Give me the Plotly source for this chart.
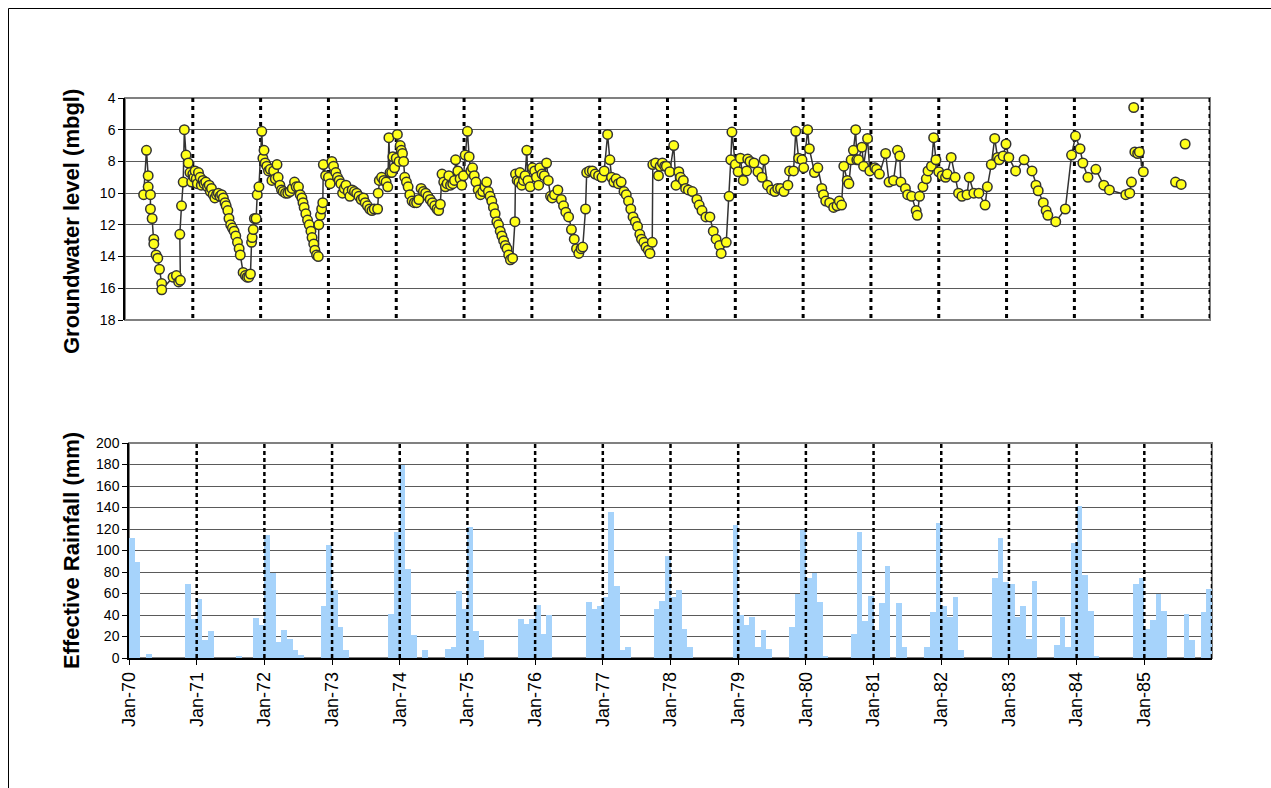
import plotly.graph_objects as go

W, H = 1271, 788

# ---------------- data ----------------
year_labels = ["Jan-70", "Jan-71", "Jan-72", "Jan-73", "Jan-74", "Jan-75", "Jan-76", "Jan-77",
               "Jan-78", "Jan-79", "Jan-80", "Jan-81", "Jan-82", "Jan-83", "Jan-84", "Jan-85"]

# monthly effective rainfall (mm), Jan-1970 .. Dec-1985
rain_1970 = [112, 89, 0, 4, 0, 0, 0, 0, 0, 0, 69, 36]
rain_1971 = [55, 17, 25, 0, 0, 0, 0, 1, 0, 0, 37, 31]
rain_1972 = [114, 79, 15, 26, 18, 7, 3, 0, 0, 0, 48, 105]
rain_1973 = [63, 29, 7, 0, 0, 0, 0, 0, 0, 0, 41, 117]
rain_1974 = [180, 83, 21, 0, 7, 0, 0, 0, 8, 10, 62, 46]
rain_1975 = [122, 25, 17, 0, 0, 0, 0, 0, 0, 36, 32, 36]
rain_1976 = [49, 22, 40, 0, 0, 0, 0, 0, 0, 52, 46, 48]
rain_1977 = [57, 136, 67, 7, 10, 0, 0, 0, 0, 46, 53, 95]
rain_1978 = [57, 63, 27, 10, 0, 0, 0, 0, 0, 0, 0, 124]
rain_1979 = [40, 31, 38, 10, 26, 8, 0, 0, 0, 29, 60, 119]
rain_1980 = [74, 79, 52, 1, 0, 0, 0, 0, 22, 117, 34, 58]
rain_1981 = [26, 51, 86, 0, 51, 10, 0, 0, 0, 10, 43, 126]
rain_1982 = [48, 38, 57, 7, 0, 0, 0, 0, 0, 74, 112, 71]
rain_1983 = [69, 38, 48, 18, 72, 0, 0, 0, 12, 38, 10, 107]
rain_1984 = [141, 77, 44, 1, 0, 0, 0, 0, 0, 0, 69, 74]
rain_1985 = [27, 35, 60, 44, 0, 0, 0, 41, 17, 0, 43, 64]
rain = (rain_1970 + rain_1971 + rain_1972 + rain_1973 + rain_1974 + rain_1975 + rain_1976 +
        rain_1977 + rain_1978 + rain_1979 + rain_1980 + rain_1981 + rain_1982 + rain_1983 +
        rain_1984 + rain_1985)

# groundwater level observations as (months since Jan-1970, level in m below ground)
gw_1970 = [(3.3, 10.1), (3.8, 7.3), (4.1, 8.9), (4.1, 9.6), (4.5, 10.1), (4.5, 11.0), (4.8, 11.6),
           (5.1, 12.9), (5.1, 13.2), (5.5, 13.9), (5.8, 14.1), (6.1, 14.8), (6.5, 15.7), (6.5, 16.1),
           (8.5, 15.3), (9.1, 15.2), (9.5, 15.6), (9.8, 15.5), (9.7, 12.6), (10.0, 10.8), (10.3, 9.3),
           (10.5, 6.0), (10.8, 7.6), (11.2, 8.1), (11.5, 8.7), (11.8, 9.3)]
gw_1971 = [(12.0, 8.8), (12.2, 9.0), (12.4, 8.6), (12.6, 9.1), (12.8, 9.4), (13.0, 8.7), (13.3, 9.0),
           (13.5, 9.5), (13.8, 9.2), (14.0, 9.4), (14.3, 9.3), (14.6, 9.6), (14.9, 9.5), (15.1, 9.9),
           (15.3, 9.7), (15.6, 10.1), (15.9, 10.3), (16.2, 10.1), (16.5, 10.0), (16.8, 10.2),
           (17.1, 10.1), (17.4, 10.3), (17.7, 10.6), (17.9, 10.8), (18.2, 11.1), (18.4, 11.6),
           (18.7, 12.0), (19.0, 12.2), (19.3, 12.4), (19.6, 12.7), (19.9, 13.1), (20.2, 13.5),
           (20.4, 13.9), (20.9, 15.0), (21.3, 15.2), (21.6, 15.3), (21.9, 15.3), (22.2, 15.1),
           (22.4, 13.1), (22.5, 12.8), (22.7, 12.3), (22.9, 11.6), (23.2, 11.6), (23.4, 10.1),
           (23.7, 9.6)]
gw_1972 = [(24.2, 6.1), (24.4, 7.8), (24.6, 7.3), (24.8, 8.1), (25.1, 8.3), (25.4, 8.6), (25.7, 8.5),
           (26.0, 9.2), (26.3, 8.6), (26.6, 9.1), (26.9, 8.2), (27.1, 9.0), (27.4, 9.5), (27.7, 9.8),
           (28.0, 9.9), (28.4, 10.0), (28.8, 10.0), (29.2, 9.9), (29.6, 9.7), (30.0, 9.3), (30.3, 9.6),
           (30.7, 9.6), (31.0, 10.1), (31.3, 10.3), (31.5, 10.6), (31.7, 10.9), (32.0, 11.3),
           (32.3, 11.7), (32.6, 12.0), (32.9, 12.4), (33.1, 12.8), (33.4, 13.2), (33.6, 13.6),
           (33.9, 13.9), (34.2, 14.0), (34.3, 12.0), (34.6, 11.4), (34.8, 11.0), (35.0, 10.6),
           (35.1, 8.2), (35.5, 8.9)]
gw_1973 = [(36.0, 9.0), (36.3, 9.4), (36.6, 8.0), (36.9, 8.3), (37.3, 8.7), (37.6, 9.0), (37.9, 9.2),
           (38.2, 9.4), (38.5, 10.0), (38.8, 9.7), (39.1, 9.5), (39.5, 9.9), (39.8, 10.2), (40.2, 9.8),
           (40.6, 9.9), (41.0, 10.0), (41.4, 10.2), (41.8, 10.4), (42.2, 10.3), (42.5, 10.6),
           (42.9, 10.8), (43.3, 11.0), (43.7, 11.1), (44.1, 11.0), (44.7, 11.0), (44.8, 10.0),
           (45.0, 9.2), (45.4, 9.0), (45.8, 9.2), (46.2, 9.3), (46.5, 9.6), (46.7, 6.5), (46.9, 8.7),
           (47.2, 8.7), (47.4, 7.7), (47.7, 8.4)]
gw_1974 = [(48.0, 7.8), (48.2, 6.3), (48.5, 8.0), (48.7, 7.0), (48.9, 7.3), (49.1, 7.5), (49.3, 8.0),
           (49.5, 9.0), (49.8, 9.3), (50.1, 9.6), (50.4, 10.1), (50.8, 10.5), (51.2, 10.6),
           (51.6, 10.6), (52.0, 10.4), (52.4, 9.7), (52.8, 9.9), (53.2, 10.0), (53.6, 10.2),
           (54.0, 10.4), (54.4, 10.6), (54.8, 10.8), (55.2, 11.0), (55.5, 11.1), (55.8, 10.7),
           (56.1, 8.8), (56.4, 9.3), (56.7, 9.6), (57.0, 9.4), (57.3, 8.9), (57.6, 9.5), (58.0, 9.4),
           (58.3, 9.2), (58.5, 7.9), (58.9, 8.6), (59.3, 9.1), (59.6, 9.5), (59.9, 8.9)]
gw_1975 = [(60.2, 7.6), (60.6, 6.1), (60.9, 7.7), (61.2, 8.6), (61.5, 8.4), (61.8, 8.9), (62.1, 9.3),
           (62.5, 9.8), (62.9, 10.1), (63.3, 9.9), (63.7, 9.6), (64.0, 9.3), (64.3, 9.9), (64.6, 10.2),
           (64.9, 10.5), (65.2, 10.9), (65.5, 11.3), (65.8, 11.8), (66.1, 12.0), (66.4, 12.4),
           (66.7, 12.7), (67.0, 13.0), (67.3, 13.3), (67.6, 13.5), (67.9, 13.9), (68.2, 14.2),
           (68.6, 14.1), (69.0, 11.8), (69.1, 8.8), (69.4, 9.2), (69.7, 9.3), (69.9, 8.7), (70.2, 9.5),
           (70.5, 9.2), (70.8, 8.9), (71.1, 7.3), (71.3, 9.2), (71.7, 9.6)]
gw_1976 = [(72.1, 8.4), (72.5, 8.6), (72.8, 9.0), (73.2, 9.5), (73.4, 8.4), (73.8, 8.8), (74.2, 8.9),
           (74.6, 8.1), (74.9, 9.2), (75.3, 10.2), (75.6, 10.3), (76.0, 10.1), (76.6, 9.8),
           (77.2, 10.4), (77.6, 10.8), (78.0, 11.2), (78.5, 11.5), (79.0, 12.3), (79.5, 12.9),
           (79.9, 13.5), (80.3, 13.8), (80.7, 13.5), (81.0, 13.4), (81.5, 11.0), (81.7, 8.7),
           (82.2, 8.6), (82.7, 8.6), (83.2, 8.8), (83.8, 8.9)]
gw_1977 = [(84.4, 9.0), (84.8, 8.6), (85.4, 6.3), (85.8, 7.9), (86.1, 9.0), (86.5, 9.3), (86.9, 9.1),
           (87.3, 9.4), (87.8, 9.3), (88.3, 9.9), (88.7, 10.1), (89.1, 10.5), (89.5, 11.0),
           (89.9, 11.5), (90.3, 11.8), (90.7, 12.1), (91.1, 12.6), (91.4, 12.9), (91.8, 13.1),
           (92.2, 13.4), (92.6, 13.6), (92.9, 13.8), (93.3, 13.1), (93.4, 8.2), (93.9, 8.1),
           (94.4, 8.9), (94.7, 8.3), (95.1, 8.1), (95.5, 8.3), (95.8, 8.3)]
gw_1978 = [(96.4, 8.65), (97.1, 7.0), (97.5, 9.5), (98.0, 8.65), (98.3, 9.0), (98.8, 9.2), (99.2, 9.7),
           (99.7, 9.8), (100.4, 9.9), (101.2, 10.4), (101.6, 10.75), (102.1, 11.1), (102.8, 11.5),
           (103.5, 11.5), (104.1, 12.4), (104.6, 12.9), (105.2, 13.3), (105.5, 13.8), (106.4, 13.1),
           (106.9, 10.2), (107.2, 7.9), (107.4, 6.15)]
gw_1979 = [(108.0, 8.2), (108.5, 8.65), (108.9, 7.8), (109.4, 9.2), (110.0, 8.6), (110.2, 7.85),
           (110.6, 8.0), (111.3, 8.1), (112.0, 8.65), (112.7, 9.0), (113.1, 7.9), (113.7, 9.5),
           (114.4, 9.8), (115.0, 9.9), (115.5, 9.7), (116.0, 9.7), (116.6, 9.9), (117.3, 9.5),
           (117.6, 8.6), (118.3, 8.6), (118.7, 6.1), (119.2, 7.8), (119.8, 7.9)]
gw_1980 = [(120.1, 8.4), (120.8, 6.0), (121.1, 7.2), (122.0, 8.7), (122.6, 8.4), (123.3, 9.7),
           (123.6, 10.1), (124.0, 10.5), (124.7, 10.6), (125.4, 10.9), (126.0, 10.8), (126.4, 10.5),
           (126.8, 10.75), (127.2, 8.3), (127.8, 9.2), (128.1, 9.4), (128.5, 7.9), (128.9, 7.3),
           (129.3, 6.0), (129.5, 7.9), (129.8, 7.9), (130.4, 7.1), (130.7, 8.3), (131.4, 6.55),
           (131.8, 8.6)]
gw_1981 = [(132.7, 8.4), (133.0, 8.5), (133.5, 8.8), (134.6, 7.5), (135.2, 9.3), (136.0, 9.2),
           (136.7, 7.3), (137.1, 7.65), (137.3, 9.3), (138.1, 9.7), (138.5, 10.1), (139.2, 10.2),
           (140.0, 11.1), (140.2, 11.4), (140.6, 10.2), (141.2, 9.6), (141.8, 9.1), (142.1, 8.6),
           (142.7, 8.3), (143.1, 6.5), (143.5, 7.9)]
gw_1982 = [(144.0, 8.65), (144.6, 8.9), (145.2, 9.0), (145.5, 8.8), (146.2, 7.75), (146.9, 9.0),
           (147.5, 10.0), (148.1, 10.2), (149.0, 10.1), (149.4, 9.0), (150.2, 10.0), (151.1, 10.0),
           (152.2, 10.75), (152.6, 9.6), (153.3, 8.2), (153.9, 6.55), (154.4, 7.75), (154.7, 7.9),
           (155.4, 7.65), (155.9, 6.9)]
gw_1983 = [(156.4, 7.75), (157.6, 8.6), (159.1, 7.9), (160.5, 8.6), (161.2, 9.5), (161.6, 9.85),
           (162.5, 10.6), (163.0, 11.1), (163.3, 11.4), (164.7, 11.8), (166.4, 11.0), (167.5, 7.6)]
gw_1984 = [(168.2, 6.4), (169.0, 7.2), (169.5, 8.1), (170.4, 9.0), (171.8, 8.5), (173.2, 9.5),
           (174.2, 9.8), (177.1, 10.1), (177.8, 10.0), (178.1, 9.3)]
# separately recorded runs (not joined to their neighbours)
gw_run_late84 = [(178.5, 4.6)]
gw_run_dec84 = [(178.7, 7.4), (179.2, 7.5), (179.5, 7.4), (180.2, 8.65)]
gw_run_aug85 = [(185.9, 9.3)]
gw_run_sep85 = [(186.9, 9.45)]
gw_run_oct85 = [(187.6, 6.9)]

gw_runs = [gw_1970 + gw_1971 + gw_1972 + gw_1973 + gw_1974 + gw_1975 + gw_1976 + gw_1977 +
           gw_1978 + gw_1979 + gw_1980 + gw_1981 + gw_1982 + gw_1983 + gw_1984,
           gw_run_late84, gw_run_dec84, gw_run_aug85, gw_run_sep85, gw_run_oct85]

gw_ticks = [4, 6, 8, 10, 12, 14, 16, 18]
rain_ticks = [0, 20, 40, 60, 80, 100, 120, 140, 160, 180, 200]
year_ticks = [12 * i for i in range(len(year_labels))]
n_months = len(rain)

gw_x, gw_y = [], []
for run in gw_runs:
    if gw_x:
        gw_x.append(None)
        gw_y.append(None)
    gw_x += [p[0] for p in run]
    gw_y += [p[1] for p in run]

# ---------------- figure ----------------
FONT = "Arial, Liberation Sans, sans-serif"
GRID = "#5a5a5a"

# dashed January separators (drawn as line traces, gaps separate the segments)
sep_x, sep_top, sep_bot = [], [], []
for k in range(1, len(year_labels) + 1):
    sep_x += [12 * k, 12 * k, None]
    sep_top += [gw_ticks[0], gw_ticks[-1], None]
    sep_bot += [rain_ticks[0], rain_ticks[-1], None]

fig = go.Figure()
fig.add_trace(go.Scatter(
    x=sep_x, y=sep_top, mode="lines", line=dict(color="black", width=3, dash="4px,4px"),
    xaxis="x", yaxis="y", showlegend=False, hoverinfo="skip"))
fig.add_trace(go.Bar(
    x=[m + 0.5 for m in range(n_months)], y=rain, width=1.0,
    marker=dict(color="#a6d3fb", line=dict(width=0)),
    xaxis="x2", yaxis="y2", showlegend=False))
fig.add_trace(go.Scatter(
    x=sep_x, y=sep_bot, mode="lines", line=dict(color="black", width=2.5, dash="4px,3px"),
    xaxis="x2", yaxis="y2", showlegend=False, hoverinfo="skip"))
fig.add_trace(go.Scatter(
    x=gw_x, y=gw_y, mode="lines+markers", connectgaps=False,
    line=dict(color="#333333", width=1.5),
    marker=dict(size=9.5, color="#ffff1a", line=dict(color="#333333", width=1.5)),
    xaxis="x", yaxis="y", showlegend=False))

def px_x(p):
    return p / W

def px_y(p):
    return 1 - p / H

top_x = [px_x(125), px_x(1210)]
top_y = [px_y(320), px_y(98)]
bot_x = [px_x(129), px_x(1212)]
bot_y = [px_y(658), px_y(443)]

fig.update_layout(
    width=W, height=H, margin=dict(l=0, r=0, t=0, b=0, pad=0, autoexpand=False), autosize=False,
    paper_bgcolor="white", plot_bgcolor="white",
    font=dict(family=FONT, color="black", size=14),
    bargap=0,
    xaxis=dict(domain=top_x, range=[0, n_months], anchor="y", showticklabels=False, automargin=False,
               showgrid=False, zeroline=False, showline=False, ticks=""),
    yaxis=dict(domain=top_y, range=[18, 4], anchor="x", tickvals=gw_ticks, automargin=False,
               showgrid=True, gridcolor=GRID, gridwidth=1, zeroline=False,
               showline=True, linecolor="black", linewidth=1.5,
               ticks="outside", ticklen=5, tickcolor="black", tickfont=dict(size=14)),
    xaxis2=dict(domain=bot_x, range=[0, n_months], anchor="y2", tickvals=year_ticks, automargin=False,
                ticktext=year_labels, tickangle=-90, showgrid=False, zeroline=False,
                showline=True, linecolor="black", linewidth=1.5,
                ticks="outside", ticklen=5, tickcolor="black", tickfont=dict(size=18)),
    yaxis2=dict(domain=bot_y, range=[0, 200], anchor="x2", tickvals=rain_ticks, automargin=False,
                showgrid=True, gridcolor=GRID, gridwidth=1, zeroline=False,
                showline=True, linecolor="black", linewidth=1.5,
                ticks="outside", ticklen=5, tickcolor="black", tickfont=dict(size=14)),
)

shapes = []
# chart-area frame (top and left edges; the rest runs off the page)
fx0, fy1 = px_x(8.5), px_y(8.5)
shapes.append(dict(type="line", xref="paper", yref="paper", x0=fx0, y0=fy1, x1=1, y1=fy1,
                   line=dict(color="black", width=1)))
shapes.append(dict(type="line", xref="paper", yref="paper", x0=fx0, y0=0, x1=fx0, y1=fy1,
                   line=dict(color="black", width=1)))
# plot-area borders
for xr, yr in (("x", "y"), ("x2", "y2")):
    shapes.append(dict(type="rect", xref=f"{xr} domain", yref=f"{yr} domain", x0=0, x1=1, y0=0, y1=1,
                       line=dict(color="#808080", width=2), layer="below"))
fig.update_layout(shapes=shapes)

fig.add_annotation(text="<b>Groundwater level (mbgl)</b>", textangle=-90, xref="paper", yref="paper",
                   x=px_x(71), y=px_y(222), showarrow=False, font=dict(size=22, family=FONT),
                   xanchor="center", yanchor="middle")
fig.add_annotation(text="<b>Effective Rainfall (mm)</b>", textangle=-90, xref="paper", yref="paper",
                   x=px_x(71), y=px_y(551), showarrow=False, font=dict(size=22, family=FONT),
                   xanchor="center", yanchor="middle")

fig.write_html("out.html")
